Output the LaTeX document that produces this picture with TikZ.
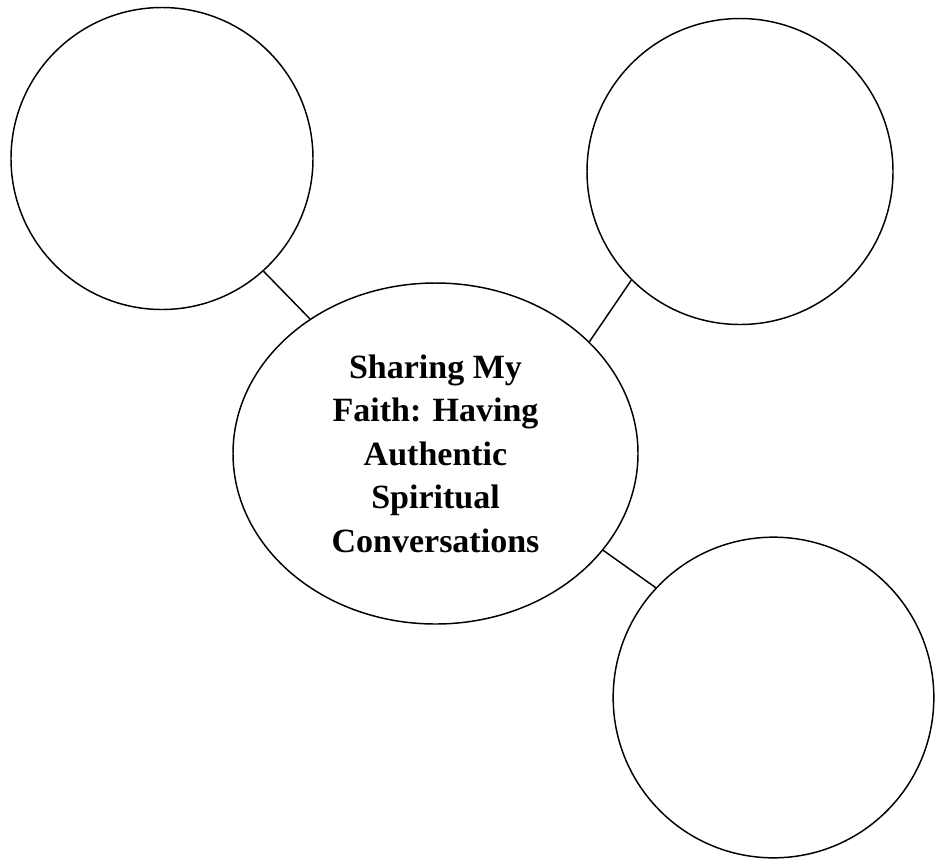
\documentclass[tikz,border=0pt]{standalone}
\usepackage{fontspec}
\setmainfont{Liberation Serif}
\usetikzlibrary{shapes.geometric}
\tikzset{
  bubble/.style={circle,draw=black,line width=1.1pt,inner sep=0pt},
  hub/.style={ellipse,draw=black,line width=1.1pt,inner sep=0pt,align=center,
    minimum width=303.75pt,minimum height=255.75pt,
    font=\bfseries\fontsize{25.5}{32.6}\selectfont},
  link/.style={draw=black,line width=1.1pt}
}
\begin{document}
\begin{tikzpicture}[x=0.75pt,y=-0.75pt]
  \useasboundingbox (0,0) rectangle (935,858);
  % centre topic
  \node[hub] (hub) at (435.5,453.5) {Sharing My\\Faith: Having\\Authentic\\Spiritual\\Conversations};
  % empty bubbles
  \node[bubble,minimum size=226.5pt] (tl) at (162,158.5) {};
  \node[bubble,minimum size=229.5pt] (tr) at (740,171.5) {};
  \node[bubble,minimum size=240.5pt] (br) at (773.5,697.5) {};
  \draw[link] (tl.-48.6) -- (hub.133.7);
  \draw[link] (tr.225.6) -- (hub.36.4);
  \draw[link] (br.137.8) -- (hub.-30.5);
\end{tikzpicture}
\end{document}
